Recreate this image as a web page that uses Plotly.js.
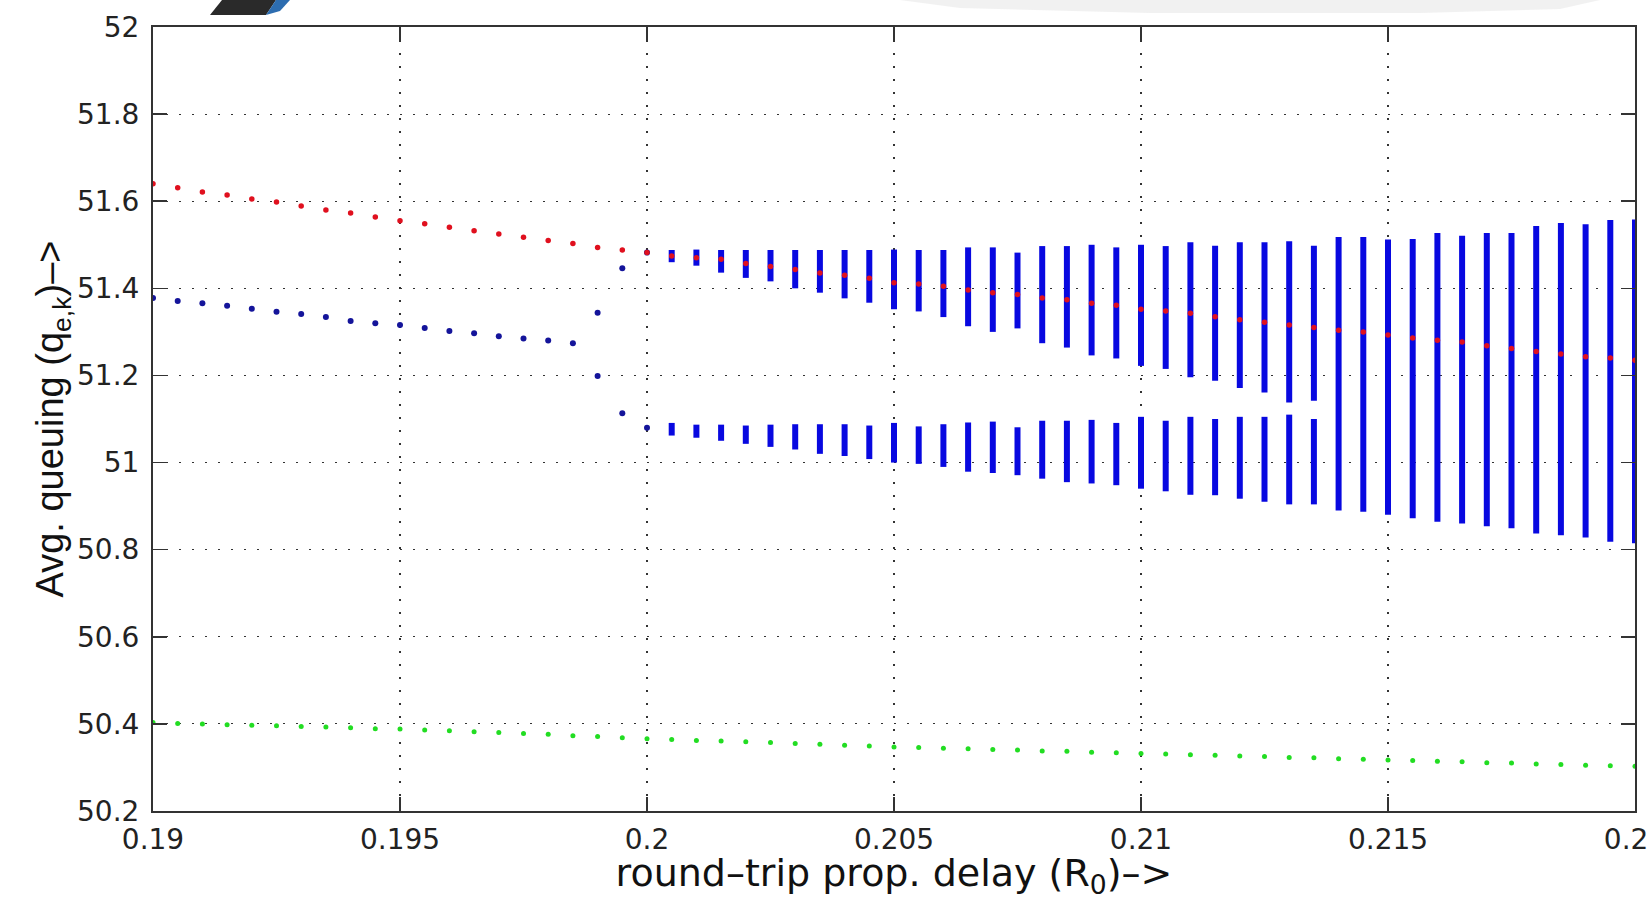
<!DOCTYPE html>
<html>
<head>
<meta charset="utf-8">
<script src="https://cdn.plot.ly/plotly-3.0.1.min.js"></script>
<style>html,body{margin:0;padding:0;background:#fff;overflow:hidden;}#chart{width:1649px;height:900px;}</style>
</head>
<body>
<div id="chart"></div>
<script>
// Parameter values (round-trip propagation delay R0)
const delays = [0.19, 0.1905, 0.191, 0.1915, 0.192, 0.1925, 0.193, 0.1935, 0.194, 0.1945, 0.195,
  0.1955, 0.196, 0.1965, 0.197, 0.1975, 0.198, 0.1985, 0.199, 0.1995, 0.2,
  0.2005, 0.201, 0.2015, 0.202, 0.2025, 0.203, 0.2035, 0.204, 0.2045, 0.205,
  0.2055, 0.206, 0.2065, 0.207, 0.2075, 0.208, 0.2085, 0.209, 0.2095, 0.21,
  0.2105, 0.211, 0.2115, 0.212, 0.2125, 0.213, 0.2135, 0.214, 0.2145, 0.215,
  0.2155, 0.216, 0.2165, 0.217, 0.2175, 0.218, 0.2185, 0.219, 0.2195, 0.22];

// Red series (fixed point)
const redQueue = [51.640, 51.631, 51.621, 51.614, 51.605, 51.598, 51.589, 51.580, 51.573, 51.564, 51.555,
  51.548, 51.540, 51.532, 51.525, 51.517, 51.510, 51.503, 51.494, 51.488, 51.482,
  51.474, 51.470, 51.467, 51.457, 51.450, 51.443, 51.435, 51.430, 51.423, 51.413,
  51.410, 51.405, 51.396, 51.390, 51.386, 51.378, 51.374, 51.366, 51.361, 51.352,
  51.348, 51.343, 51.335, 51.328, 51.322, 51.316, 51.310, 51.304, 51.300, 51.293,
  51.286, 51.281, 51.277, 51.268, 51.262, 51.255, 51.249, 51.243, 51.240, 51.235];

// Green series
const greenQueue = [50.403, 50.401, 50.400, 50.398, 50.397, 50.396, 50.394, 50.393, 50.391, 50.389, 50.388,
  50.386, 50.384, 50.382, 50.380, 50.378, 50.376, 50.373, 50.371, 50.368, 50.366,
  50.364, 50.362, 50.361, 50.359, 50.357, 50.355, 50.353, 50.351, 50.349, 50.347,
  50.346, 50.344, 50.343, 50.341, 50.340, 50.338, 50.337, 50.335, 50.334, 50.332,
  50.331, 50.329, 50.328, 50.326, 50.325, 50.323, 50.322, 50.320, 50.319, 50.317,
  50.316, 50.314, 50.313, 50.311, 50.310, 50.308, 50.307, 50.305, 50.304, 50.303];

// Blue series, 0.19 .. 0.2: single points then period-2 branches
const blueDelays = [0.19, 0.1905, 0.191, 0.1915, 0.192, 0.1925, 0.193, 0.1935, 0.194, 0.1945, 0.195,
  0.1955, 0.196, 0.1965, 0.197, 0.1975, 0.198, 0.1985, 0.199, 0.1995, 0.2];
const blueBranchA = [51.378, 51.371, 51.366, 51.360, 51.353, 51.346, 51.341, 51.334, 51.325, 51.320, 51.316,
  51.309, 51.302, 51.297, 51.290, 51.285, 51.280, 51.274, 51.344, 51.446, 51.482];
const blueBranchB = [null, null, null, null, null, null, null, null, null, null, null,
  null, null, null, null, null, null, null, 51.199, 51.113, 51.080];

// Blue series, 0.2005 .. 0.22: bands of values (upper band / lower band)
const bandDelays = [0.2005, 0.201, 0.2015, 0.202, 0.2025, 0.203, 0.2035, 0.204, 0.2045, 0.205,
  0.2055, 0.206, 0.2065, 0.207, 0.2075, 0.208, 0.2085, 0.209, 0.2095, 0.21,
  0.2105, 0.211, 0.2115, 0.212, 0.2125, 0.213, 0.2135, 0.214, 0.2145, 0.215,
  0.2155, 0.216, 0.2165, 0.217, 0.2175, 0.218, 0.2185, 0.219, 0.2195, 0.22];
const upperTop = [51.488, 51.489, 51.488, 51.488, 51.488, 51.488, 51.488, 51.488, 51.488, 51.489,
  51.488, 51.488, 51.494, 51.494, 51.482, 51.497, 51.497, 51.500, 51.494, 51.500,
  51.497, 51.506, 51.498, 51.506, 51.506, 51.508, 51.498, 51.518, 51.518, 51.512,
  51.513, 51.527, 51.521, 51.527, 51.527, 51.543, 51.550, 51.547, 51.557, 51.558];
const upperBottom = [51.460, 51.452, 51.436, 51.424, 51.416, 51.400, 51.390, 51.377, 51.367, 51.352,
  51.347, 51.334, 51.313, 51.300, 51.308, 51.274, 51.264, 51.246, 51.239, 51.222,
  51.215, 51.196, 51.188, 51.171, 51.161, 51.138, 51.142, null, null, null,
  null, null, null, null, null, null, null, null, null, null];
const lowerTop = [51.091, 51.087, 51.087, 51.085, 51.087, 51.088, 51.088, 51.088, 51.085, 51.091,
  51.083, 51.088, 51.092, 51.094, 51.081, 51.096, 51.096, 51.098, 51.091, 51.105,
  51.096, 51.105, 51.100, 51.105, 51.105, 51.110, 51.100, null, null, null,
  null, null, null, null, null, null, null, null, null, null];
const lowerBottom = [51.062, 51.057, 51.050, 51.043, 51.036, 51.030, 51.020, 51.015, 51.008, 51.000,
  50.997, 50.990, 50.979, 50.976, 50.971, 50.963, 50.955, 50.952, 50.948, 50.940,
  50.934, 50.926, 50.925, 50.917, 50.910, 50.904, 50.904, 50.890, 50.887, 50.880,
  50.872, 50.864, 50.860, 50.854, 50.849, 50.837, 50.833, 50.828, 50.818, 50.815];

// Tick labels
const xTickVals = [0.19, 0.195, 0.2, 0.205, 0.21, 0.215, 0.22];
const xTickText = ['0.19', '0.195', '0.2', '0.205', '0.21', '0.215', '0.22'];
const yTickVals = [50.2, 50.4, 50.6, 50.8, 51, 51.2, 51.4, 51.6, 51.8, 52];
const yTickText = ['50.2', '50.4', '50.6', '50.8', '51', '51.2', '51.4', '51.6', '51.8', '52'];

// Build band segments
const bandX = [], bandY = [];
for (let i = 0; i < bandDelays.length; i++) {
  const x = bandDelays[i];
  if (upperBottom[i] !== null) {
    bandX.push(x, x, null, x, x, null);
    bandY.push(upperTop[i], upperBottom[i], null, lowerTop[i], lowerBottom[i], null);
  } else {
    bandX.push(x, x, null);
    bandY.push(upperTop[i], lowerBottom[i], null);
  }
}
const pX = [], pY = [];
for (let i = 0; i < blueDelays.length; i++) {
  pX.push(blueDelays[i]); pY.push(blueBranchA[i]);
  if (blueBranchB[i] !== null) { pX.push(blueDelays[i]); pY.push(blueBranchB[i]); }
}

const traces = [
  {x: delays, y: greenQueue, mode: 'markers', type: 'scatter',
   marker: {color: '#22dd22', size: 5, symbol: 'circle'}, hoverinfo: 'x+y'},
  {x: bandX, y: bandY, mode: 'lines', type: 'scatter',
   line: {color: '#0808e0', width: 6}, connectgaps: false, hoverinfo: 'x+y'},
  {x: pX, y: pY, mode: 'markers', type: 'scatter',
   marker: {color: '#14149a', size: 6, symbol: 'circle'}, hoverinfo: 'x+y'},
  {x: delays, y: redQueue, mode: 'markers', type: 'scatter',
   marker: {color: '#e0101e', size: 5.5, symbol: 'circle'}, hoverinfo: 'x+y'}
];

function px2x(p) { return (p - 153) / 1482; }
function py2y(p) { return (811 - p) / 784; }
function pathOf(pts) {
  return 'M ' + pts.map(p => px2x(p[0]).toFixed(5) + ',' + py2y(p[1]).toFixed(5)).join(' L ') + ' Z';
}

const axisCommon = {
  ticks: 'inside', ticklen: 14, tickwidth: 1.5, tickcolor: '#333',
  mirror: 'ticks', showline: true, linecolor: '#333', linewidth: 2,
  showgrid: true, gridcolor: '#333', gridwidth: 1.2, griddash: '2px,11px',
  zeroline: false, automargin: false, ticklabeloverflow: 'allow',
  tickfont: {family: 'DejaVu Sans', size: 28, color: '#222'}
};

const layout = {
  width: 1649, height: 900,
  margin: {l: 153, r: 14, t: 27, b: 89, pad: 0},
  paper_bgcolor: '#ffffff', plot_bgcolor: '#ffffff',
  showlegend: false,
  xaxis: Object.assign({}, axisCommon, {
    range: [0.19, 0.22], tickmode: 'array', tickvals: xTickVals, ticktext: xTickText,
    ticklabelstandoff: 2,
    title: {text: 'round\u2013trip prop. delay (R<sub>0</sub>)\u2013>', standoff: 4,
            font: {family: 'DejaVu Sans', size: 38, color: '#111'}}
  }),
  yaxis: Object.assign({}, axisCommon, {
    range: [50.2, 52], tickmode: 'array', tickvals: yTickVals, ticktext: yTickText,
    ticklabelstandoff: 6,
    title: {text: 'Avg. queuing (q<sub>e,k</sub>)\u2013>', standoff: 2,
            font: {family: 'Liberation Sans', size: 38, color: '#111'}}
  }),
  shapes: [
    {type: 'path', xref: 'paper', yref: 'paper', layer: 'above', line: {width: 0},
     fillcolor: '#2a2a2a', path: pathOf([[210, 15], [222, 0], [276, 0], [266, 15]])},
    {type: 'path', xref: 'paper', yref: 'paper', layer: 'above', line: {width: 0},
     fillcolor: '#2d6db0', path: pathOf([[266, 15], [276, 0], [290, 0], [280, 11]])},
    {type: 'path', xref: 'paper', yref: 'paper', layer: 'below', line: {width: 0},
     fillcolor: 'rgba(200,200,200,0.25)',
     path: pathOf([[900, 0], [1600, 0], [1560, 9], [1420, 13], [1150, 13], [960, 8]])}
  ]
};

Plotly.newPlot('chart', traces, layout, {displayModeBar: false, staticPlot: true});
</script>
</body>
</html>
